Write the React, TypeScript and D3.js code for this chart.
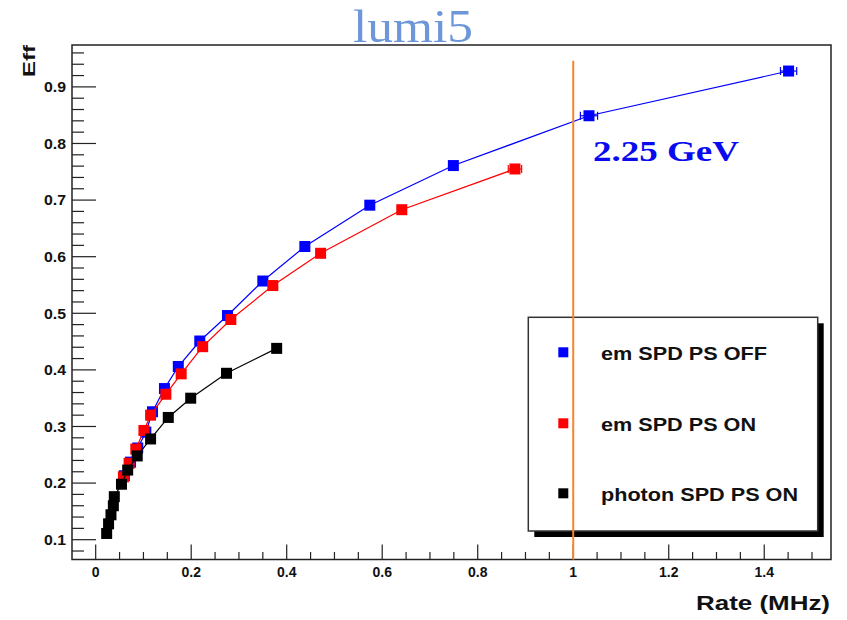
import React from "react";
import * as d3 from "d3";

// ---- data ----
const seriesNames = ["em SPD PS OFF", "em SPD PS ON", "photon SPD PS ON"];
const seriesColors = ["#0000ff", "#ff0000", "#000000"];

const blueRate = [0.060, 0.073, 0.088, 0.105, 0.119, 0.144, 0.173, 0.218, 0.276, 0.350, 0.438, 0.574, 0.749, 1.033, 1.451];
const blueEff = [0.213, 0.237, 0.262, 0.290, 0.326, 0.367, 0.406, 0.451, 0.496, 0.557, 0.618, 0.691, 0.761, 0.849, 0.928];
const blueRateErr = [0, 0, 0, 0, 0, 0, 0, 0, 0.003, 0.004, 0.005, 0.006, 0.008, 0.018, 0.017];

const redRate = [0.058, 0.070, 0.084, 0.101, 0.115, 0.147, 0.179, 0.224, 0.283, 0.371, 0.471, 0.641, 0.878];
const redEff = [0.211, 0.235, 0.260, 0.293, 0.320, 0.357, 0.393, 0.441, 0.489, 0.549, 0.606, 0.683, 0.755];
const redRateErr = [0, 0, 0, 0, 0, 0, 0, 0, 0.003, 0.004, 0.005, 0.007, 0.014];

const blackRate = [0.023, 0.027, 0.032, 0.037, 0.039, 0.054, 0.067, 0.087, 0.115, 0.152, 0.199, 0.274, 0.379];
const blackEff = [0.111, 0.128, 0.144, 0.160, 0.176, 0.198, 0.223, 0.248, 0.278, 0.316, 0.350, 0.394, 0.438];
const blackRateErr = [0, 0, 0, 0, 0, 0, 0, 0, 0, 0, 0, 0, 0];

const xMajorTicks = [0, 0.2, 0.4, 0.6, 0.8, 1, 1.2, 1.4];
const xTickLabels = ["0", "0.2", "0.4", "0.6", "0.8", "1", "1.2", "1.4"];
const yMajorTicks = [0.1, 0.2, 0.3, 0.4, 0.5, 0.6, 0.7, 0.8, 0.9];
const yTickLabels = ["0.1", "0.2", "0.3", "0.4", "0.5", "0.6", "0.7", "0.8", "0.9"];

const titleText = "lumi5";
const xTitle = "Rate (MHz)";
const yTitle = "Eff";
const annotation = "2.25 GeV";
const cutRate = 1;
const cutTopEff = 0.946;

const xDomain = [-0.0496, 1.5398];
const yDomain = [0.065, 0.974];

export default function App() {
  const W = 847, H = 620;
  const left = 72, right = 831, top = 45, bottom = 559.5;
  const x = d3.scaleLinear().domain(xDomain).range([left, right]);
  const y = d3.scaleLinear().domain(yDomain).range([bottom, top]);

  const xMinor = d3.range(0.05, 1.52, 0.05).filter((v) => Math.abs(v / 0.2 - Math.round(v / 0.2)) > 1e-6);
  const yMinor = d3.range(0.08, 0.97, 0.02).filter((v) => Math.abs(v / 0.1 - Math.round(v / 0.1)) > 1e-6);

  const series = [
    { rate: blueRate, eff: blueEff, err: blueRateErr },
    { rate: redRate, eff: redEff, err: redRateErr },
    { rate: blackRate, eff: blackEff, err: blackRateErr },
  ];

  const line = d3
    .line<[number, number]>()
    .x((d) => x(d[0]))
    .y((d) => y(d[1]));

  const ms = 11;
  const font = "'Liberation Sans', Arial, sans-serif";
  const legendX = 528.3, legendY = 317.3, legendW = 289.4, legendH = 213.7;
  const legendRows = [352.3, 423.3, 493.3];
  const legendTextLen = [166, 155, 197];

  return (
    <svg width={W} height={H} style={{ position: "absolute", left: 0, top: 0, background: "#fff" }}>
      <rect x={0} y={0} width={W} height={H} fill="#fff" />
      {/* title */}
      <text x={413} y={42} textAnchor="middle" fontFamily="'Liberation Serif', Georgia, serif" fontSize={47} fill="#6d97d9" textLength={120} lengthAdjust="spacingAndGlyphs">
        {titleText}
      </text>

      {/* frame */}
      <rect x={left} y={top} width={right - left} height={bottom - top} fill="none" stroke="#222" strokeWidth={1.5} />

      {/* y ticks */}
      {yMajorTicks.map((v, i) => (
        <g key={"ym" + i}>
          <line x1={left} x2={left + 24} y1={y(v)} y2={y(v)} stroke="#222" strokeWidth={1.2} />
          <text x={66} y={y(v)} dy="0.36em" textAnchor="end" fontFamily={font} fontWeight="bold" fontSize={15} fill="#111" textLength={22} lengthAdjust="spacingAndGlyphs">
            {yTickLabels[i]}
          </text>
        </g>
      ))}
      {yMinor.map((v, i) => (
        <line key={"yn" + i} x1={left} x2={left + 12} y1={y(v)} y2={y(v)} stroke="#222" strokeWidth={1.2} />
      ))}

      {/* x ticks */}
      {xMajorTicks.map((v, i) => (
        <g key={"xm" + i}>
          <line x1={x(v)} x2={x(v)} y1={bottom} y2={bottom - 15} stroke="#222" strokeWidth={1.2} />
          <text x={x(v)} y={577} textAnchor="middle" fontFamily={font} fontWeight="bold" fontSize={14} fill="#111">
            {xTickLabels[i]}
          </text>
        </g>
      ))}
      {xMinor.map((v, i) => (
        <line key={"xn" + i} x1={x(v)} x2={x(v)} y1={bottom} y2={bottom - 7.5} stroke="#222" strokeWidth={1.2} />
      ))}

      {/* axis titles */}
      <text x={830} y={610} textAnchor="end" fontFamily={font} fontWeight="bold" fontSize={21} fill="#111" textLength={134} lengthAdjust="spacingAndGlyphs">
        {xTitle}
      </text>
      <text transform="translate(35,45) rotate(-90)" textAnchor="end" fontFamily={font} fontWeight="bold" fontSize={16} fill="#111" textLength={32} lengthAdjust="spacingAndGlyphs">
        {yTitle}
      </text>

      {/* series */}
      {series.map((s, si) => {
        const pts: [number, number][] = s.rate.map((r, i) => [r, s.eff[i]]);
        return (
          <g key={"s" + si}>
            <path d={line(pts) || ""} fill="none" stroke={seriesColors[si]} strokeWidth={1.2} />
            {pts.map((p, i) =>
              s.err[i] > 0 ? (
                <g key={"e" + i} stroke={seriesColors[si]} strokeWidth={1.2}>
                  <line x1={x(p[0] - s.err[i])} x2={x(p[0] + s.err[i])} y1={y(p[1])} y2={y(p[1])} />
                  <line x1={x(p[0] + s.err[i])} x2={x(p[0] + s.err[i])} y1={y(p[1]) - 4} y2={y(p[1]) + 4} />
                  <line x1={x(p[0] - s.err[i])} x2={x(p[0] - s.err[i])} y1={y(p[1]) - 4} y2={y(p[1]) + 4} />
                </g>
              ) : null
            )}
            {pts.map((p, i) => (
              <rect key={"m" + i} x={x(p[0]) - ms / 2} y={y(p[1]) - ms / 2} width={ms} height={ms} fill={seriesColors[si]} />
            ))}
          </g>
        );
      })}

      {/* legend */}
      <rect x={legendX + 6} y={legendY + 6} width={legendW} height={legendH} fill="#000" />
      <rect x={legendX} y={legendY} width={legendW} height={legendH} fill="#fff" stroke="#333" strokeWidth={1.5} />
      {seriesNames.map((n, i) => (
        <g key={"l" + i}>
          <rect x={563.3 - 5} y={legendRows[i] - 5} width={10} height={10} fill={seriesColors[i]} />
          <text x={601} y={legendRows[i] + 8} fontFamily={font} fontWeight="bold" fontSize={18} fill="#111" textLength={legendTextLen[i]} lengthAdjust="spacingAndGlyphs">
            {n}
          </text>
        </g>
      ))}

      {/* cut line */}
      <line x1={x(cutRate)} x2={x(cutRate)} y1={y(cutTopEff)} y2={bottom} stroke="#f5862f" strokeWidth={2} />

      {/* annotation */}
      <text x={593} y={161} fontFamily="'Liberation Serif', Georgia, serif" fontWeight="bold" fontSize={30} fill="#0a0aee" textLength={146} lengthAdjust="spacingAndGlyphs">
        {annotation}
      </text>
    </svg>
  );
}
